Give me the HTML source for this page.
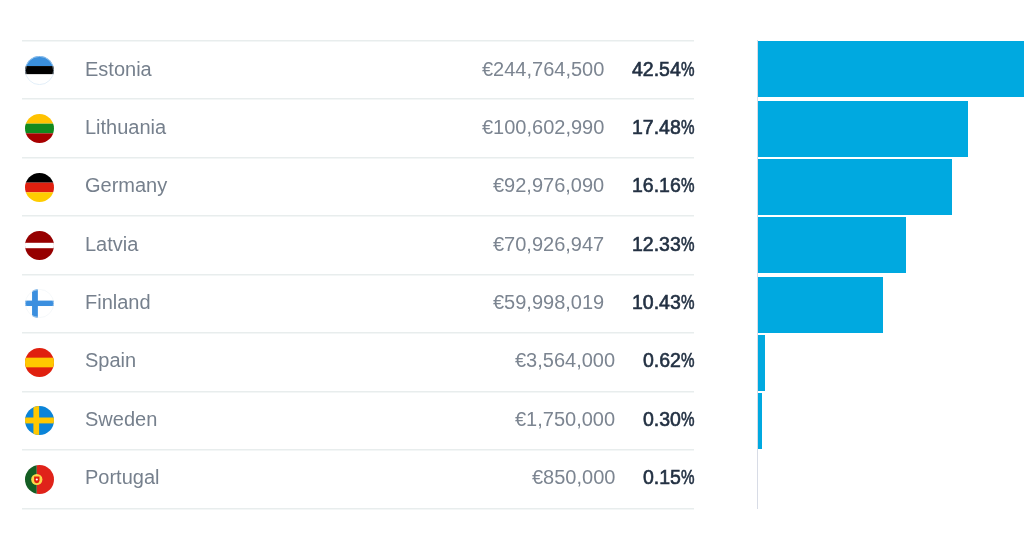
<!DOCTYPE html><html><head><meta charset="utf-8"><style>
html,body{margin:0;padding:0;background:#fff;width:1024px;height:539px;overflow:hidden;position:relative;font-family:"Liberation Sans",sans-serif;}
.ln{position:absolute;height:1px;background:#e8eded;left:22px;width:672px;box-shadow:0 1px 0 #f3f6f6}
.fl{position:absolute;width:29px;height:29px}.fl svg{display:block}
.t{position:absolute;white-space:nowrap;font-size:20px;line-height:0;height:0;will-change:transform}
.nm{color:#76808d}
.am{color:#7c8591}
.pc{color:#233143;font-weight:normal;-webkit-text-stroke:0.6px #233143}
.bar{position:absolute;background:#00a9e0}
</style></head><body>
<div class="ln" style="top:40.00px"></div>
<div class="ln" style="top:98.44px"></div>
<div class="ln" style="top:156.88px"></div>
<div class="ln" style="top:215.32px"></div>
<div class="ln" style="top:273.76px"></div>
<div class="ln" style="top:332.20px"></div>
<div class="ln" style="top:390.64px"></div>
<div class="ln" style="top:449.08px"></div>
<div class="ln" style="top:507.52px"></div>
<div class="fl" style="left:24.70px;top:56.10px"><svg width="29" height="29" viewBox="0 0 30 30"><defs><clipPath id="cee"><circle cx="15" cy="15" r="15"/></clipPath></defs><g clip-path="url(#cee)"><rect width="30" height="10.4" fill="#3a8fdc"/><rect y="10.4" width="30" height="8.6" fill="#000"/><rect y="19" width="30" height="11" fill="#fff"/></g><circle cx="15" cy="15" r="14.6" fill="none" stroke="#cfe3f5" stroke-width="0.6"/></svg></div>
<div class="t nm" style="left:85px;top:69.30px">Estonia</div>
<div class="t pc" style="right:330.00px;top:69.00px;font-size:19.5px">42.54<span style="display:inline-block;width:13.52px;transform:scaleX(0.780);transform-origin:0 0">%</span></div>
<div class="t am" style="right:419.61px;top:69.30px">€244,764,500</div>
<div class="bar" style="left:758px;top:41.00px;width:510.48px;height:56.00px"></div>
<div class="fl" style="left:24.70px;top:114.05px"><svg width="29" height="29" viewBox="0 0 30 30"><defs><clipPath id="clt"><circle cx="15" cy="15" r="15"/></clipPath></defs><g clip-path="url(#clt)"><rect width="30" height="10" fill="#ffc200"/><rect y="10" width="30" height="10" fill="#118a1e"/><rect y="20" width="30" height="10" fill="#a80000"/></g></svg></div>
<div class="t nm" style="left:85px;top:127.30px">Lithuania</div>
<div class="t pc" style="right:330.00px;top:127.00px;font-size:19.5px">17.48<span style="display:inline-block;width:13.52px;transform:scaleX(0.780);transform-origin:0 0">%</span></div>
<div class="t am" style="right:419.61px;top:127.30px">€100,602,990</div>
<div class="bar" style="left:758px;top:101.00px;width:209.76px;height:56.00px"></div>
<div class="fl" style="left:24.70px;top:172.80px"><svg width="29" height="29" viewBox="0 0 30 30"><defs><clipPath id="cde"><circle cx="15" cy="15" r="15"/></clipPath></defs><g clip-path="url(#cde)"><rect width="30" height="10" fill="#000"/><rect y="10" width="30" height="10" fill="#e0200f"/><rect y="20" width="30" height="10" fill="#ffcc00"/></g></svg></div>
<div class="t nm" style="left:85px;top:185.30px">Germany</div>
<div class="t pc" style="right:330.00px;top:185.00px;font-size:19.5px">16.16<span style="display:inline-block;width:13.52px;transform:scaleX(0.780);transform-origin:0 0">%</span></div>
<div class="t am" style="right:419.61px;top:185.30px">€92,976,090</div>
<div class="bar" style="left:758px;top:159.00px;width:193.92px;height:56.00px"></div>
<div class="fl" style="left:24.70px;top:231.00px"><svg width="29" height="29" viewBox="0 0 30 30"><defs><clipPath id="clv"><circle cx="15" cy="15" r="15"/></clipPath></defs><g clip-path="url(#clv)"><rect width="30" height="30" fill="#960000"/><rect y="12.2" width="30" height="5.6" fill="#fff"/></g></svg></div>
<div class="t nm" style="left:85px;top:244.20px">Latvia</div>
<div class="t pc" style="right:330.00px;top:243.90px;font-size:19.5px">12.33<span style="display:inline-block;width:13.52px;transform:scaleX(0.780);transform-origin:0 0">%</span></div>
<div class="t am" style="right:419.61px;top:244.20px">€70,926,947</div>
<div class="bar" style="left:758px;top:217.00px;width:147.96px;height:56.00px"></div>
<div class="fl" style="left:24.70px;top:289.05px"><svg width="29" height="29" viewBox="0 0 30 30"><defs><clipPath id="cfi"><circle cx="15" cy="15" r="15"/></clipPath></defs><g clip-path="url(#cfi)"><rect width="30" height="30" fill="#fff"/><rect x="7.3" width="6" height="30" fill="#3b8fdf"/><rect y="12" width="30" height="5.6" fill="#3b8fdf"/></g><circle cx="15" cy="15" r="14.6" fill="none" stroke="#eef3f6" stroke-width="0.6"/></svg></div>
<div class="t nm" style="left:85px;top:302.20px">Finland</div>
<div class="t pc" style="right:330.00px;top:301.90px;font-size:19.5px">10.43<span style="display:inline-block;width:13.52px;transform:scaleX(0.780);transform-origin:0 0">%</span></div>
<div class="t am" style="right:419.61px;top:302.20px">€59,998,019</div>
<div class="bar" style="left:758px;top:277.00px;width:125.16px;height:56.00px"></div>
<div class="fl" style="left:24.70px;top:347.70px"><svg width="29" height="29" viewBox="0 0 30 30"><defs><clipPath id="ces"><circle cx="15" cy="15" r="15"/></clipPath></defs><g clip-path="url(#ces)"><rect width="30" height="30" fill="#e0200f"/><rect y="10" width="30" height="10" fill="#ffc800"/></g></svg></div>
<div class="t nm" style="left:85px;top:360.30px">Spain</div>
<div class="t pc" style="right:330.00px;top:360.00px;font-size:19.5px">0.62<span style="display:inline-block;width:13.52px;transform:scaleX(0.780);transform-origin:0 0">%</span></div>
<div class="t am" style="right:408.77px;top:360.30px">€3,564,000</div>
<div class="bar" style="left:758px;top:335.00px;width:7.44px;height:56.00px"></div>
<div class="fl" style="left:24.70px;top:406.10px"><svg width="29" height="29" viewBox="0 0 30 30"><defs><clipPath id="cse"><circle cx="15" cy="15" r="15"/></clipPath></defs><g clip-path="url(#cse)"><rect width="30" height="30" fill="#0a84d8"/><rect x="8.7" width="5.9" height="30" fill="#ffc800"/><rect y="11.9" width="30" height="6.1" fill="#ffc800"/></g></svg></div>
<div class="t nm" style="left:85px;top:419.30px">Sweden</div>
<div class="t pc" style="right:330.00px;top:419.00px;font-size:19.5px">0.30<span style="display:inline-block;width:13.52px;transform:scaleX(0.780);transform-origin:0 0">%</span></div>
<div class="t am" style="right:408.77px;top:419.30px">€1,750,000</div>
<div class="bar" style="left:758px;top:393.00px;width:3.60px;height:56.00px"></div>
<div class="fl" style="left:24.70px;top:464.55px"><svg width="29" height="29" viewBox="0 0 30 30"><defs><clipPath id="cpt"><circle cx="15" cy="15" r="15"/></clipPath></defs><g clip-path="url(#cpt)"><rect width="12.2" height="30" fill="#145e24"/><rect x="12.2" width="18" height="30" fill="#e0231a"/><circle cx="12.2" cy="15" r="5.8" fill="#fbd94a"/><path d="M9.4 11.8h5.6v4.2q0 2.4-2.8 3q-2.8-0.6-2.8-3z" fill="#e0200f"/><circle cx="12.2" cy="15" r="1.1" fill="#fff"/></g></svg></div>
<div class="t nm" style="left:85px;top:477.30px">Portugal</div>
<div class="t pc" style="right:330.00px;top:477.00px;font-size:19.5px">0.15<span style="display:inline-block;width:13.52px;transform:scaleX(0.780);transform-origin:0 0">%</span></div>
<div class="t am" style="right:408.77px;top:477.30px">€850,000</div>
<div style="position:absolute;left:757px;top:39.5px;width:1px;height:469.5px;background:#d8dce6"></div>
</body></html>
